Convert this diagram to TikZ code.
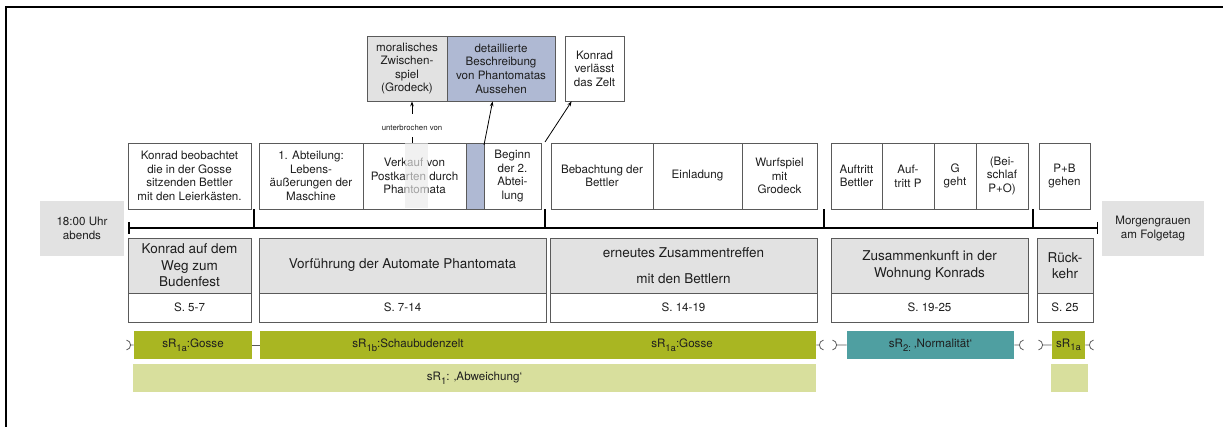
\documentclass[tikz,border=0pt]{standalone}
\usepackage{fontspec}
\setmainfont{TeX Gyre Heros}
\usetikzlibrary{arrows.meta,calc}
\definecolor{bgray}{HTML}{E2E2E2}
\definecolor{sgray}{HTML}{E9E9E9}
\definecolor{bblue}{HTML}{AFB9D3}
\definecolor{olive}{HTML}{A9B622}
\definecolor{lolive}{HTML}{D8DF9D}
\definecolor{tealbar}{HTML}{4F9FA1}
\definecolor{edge}{HTML}{5A5A5A}
\definecolor{txt}{HTML}{1E1E1E}
\newcommand\fsA{\fontsize{11.6}{13.6}\selectfont}
\newcommand\fsB{\fontsize{13.5}{16.5}\selectfont}
\newcommand\fsC{\fontsize{7.8}{9}\selectfont}
\newcommand\subx[1]{\raisebox{-3.6pt}{\fontsize{9.5}{10}\selectfont #1}}
% \mybox[options]{name}{xl}{xr}{ytop}{ybottom}{text}
\newcommand\mybox[7][]{\node[cellbox,minimum width={(#4-#3)*1pt},minimum height={(#6-#5)*1pt},#1] (#2) at ({(#3+#4)/2},{-(#5+#6)/2}) {#7};}
\begin{document}
\begin{tikzpicture}[x=1pt,y=1pt,
  cellbox/.style={draw=edge,line width=0.8pt,inner sep=0pt,align=center,text=txt,font=\fsA},
  head/.style={fill=bgray,font=\fsB},
  bar/.style={draw=none,fill=olive},
  arr/.style={line width=0.8pt,-{Stealth[length=5pt,width=3.6pt]}},
  thick line/.style={line width=1.5pt,black},
  sock/.style={line width=0.8pt,edge}]
\useasboundingbox (0,0) rectangle (1223,-427);
% frame
\coordinate (fbl) at (6,-427);
\coordinate (ftl) at (6,-7);
\coordinate (ftr) at (1223,-7);
\draw[line width=1.6pt] (fbl) -- (ftl) -- (ftr);

% upper boxes
\mybox[fill=bgray]{moral}{367}{447}{36}{101}{moralisches\\Zwischen-\\spiel\\(Grodeck)}
\mybox[fill=bblue]{detail}{447}{555}{36}{101}{detaillierte\\Beschreibung\\von Phantomatas\\Aussehen}
\mybox{verl}{565}{624}{36}{101}{Konrad\\verlässt\\das Zelt}

% row 1
\mybox{r1}{128}{251}{143}{209}{Konrad beobachtet\\die in der Gosse\\sitzenden Bettler\\mit den Leierkästen.}
\mybox{r2a}{259}{363}{143}{209}{1. Abteilung:\\Lebens-\\äußerungen der\\Maschine}
\mybox{r2b}{363}{466}{143}{209}{Verkauf von\\Postkarten durch\\Phantomata}
\mybox[fill=bblue]{r2s}{466}{484}{143}{209}{}
\mybox{r2c}{484}{541}{143}{209}{Beginn\\der 2.\\Abtei-\\lung}
\fill[sgray,fill opacity=0.65] (405,-143.5) rectangle (428,-208.5);
\mybox{r3a}{551}{653}{143}{209}{Bebachtung der\\Bettler}
\mybox{r3b}{653}{742}{143}{209}{Einladung}
\mybox{r3c}{742}{817}{143}{209}{Wurfspiel\\mit\\Grodeck}
\mybox{r4a}{831}{882}{143}{209}{Auftritt\\Bettler}
\mybox{r4b}{882}{934}{143}{209}{Auf-\\tritt P}
\mybox{r4c}{934}{976}{143}{209}{G\\geht}
\mybox{r4d}{976}{1028}{143}{209}{(Bei-\\schlaf\\P+O)}
\mybox{r5}{1039}{1090}{143}{209}{P+B\\gehen}

% unterbrochen von
\node[font=\fsC,text=txt,inner sep=2pt] (unt) at (412,-128) {unterbrochen von};
\draw[line width=0.8pt,shorten <=4pt] (unt.south) -- (unt.south |- r2b.north);
\draw[arr,shorten <=9pt] (unt.north) -- (unt.north |- moral.south);
% diagonal arrows
\coordinate (a1) at (484,-145);
\coordinate (a2) at (545,-142);
\draw[arr] (a1) -- ($(detail.south west)+(46,0)$);
\draw[arr] (a2) -- ($(verl.south west)+(7,0)$);

% side boxes
\mybox[fill=bgray,draw=none]{t0}{40}{124}{201}{256}{18:00 Uhr\\abends}
\mybox[fill=bgray,draw=none]{t1}{1102}{1204}{201}{256}{Morgengrauen\\am Folgetag}

% timeline
\coordinate (tl0) at (128,-228);
\coordinate (tl1) at (1098,-228);
\draw[thick line,{Bar[width=12pt]}-{Bar[width=12pt]}] (tl0) -- (tl1);
\coordinate (tk1) at (254,-228);
\coordinate (tk2) at (545,-228);
\coordinate (tk3) at (824,-228);
\coordinate (tk4) at (1033,-228);
\draw[thick line] (tk1) -- (tk1 |- r1.south);
\draw[thick line] (tk2) -- (tk2 |- r2c.south);
\draw[thick line] (tk3) -- (tk3 |- r3c.south);
\draw[thick line] (tk4) -- (tk4 |- r4d.south);

% row 2 headers and pages
\mybox[head]{b1}{128}{251}{238}{293}{Konrad auf dem\\Weg zum\\Budenfest}
\mybox{p1}{128}{251}{293}{322}{S. 5-7}
\mybox[head]{b2}{259}{546}{238}{293}{Vorführung der Automate Phantomata}
\mybox{p2}{259}{546}{293}{322}{S. 7-14}
\mybox[head]{b3}{550}{817}{238}{293}{erneutes Zusammentreffen\\[9pt]mit den Bettlern}
\mybox{p3}{550}{817}{293}{322}{S. 14-19}
\mybox[head]{b4}{831}{1028}{238}{293}{Zusammenkunft in der\\Wohnung Konrads}
\mybox{p4}{831}{1028}{293}{322}{S. 19-25}
\mybox[head]{b5}{1037}{1093}{238}{293}{Rück-\\kehr}
\mybox{p5}{1037}{1093}{293}{322}{S. 25}

% bars
\mybox[bar]{g1}{134}{252}{331}{359}{sR\subx{1a}:Gosse}
\mybox[bar]{g2}{260}{816}{331}{359}{}
\node[font=\fsA,text=txt] (g2t1) at (408,-345) {sR\subx{1b}:Schaubudenzelt};
\node[font=\fsA,text=txt] (g2t2) at (682,-345) {sR\subx{1a}:Gosse};
\mybox[bar,fill=tealbar]{tb}{847}{1014}{331}{359}{sR\subx{2:} ‚Normalität‘}
\mybox[bar]{g3}{1052}{1085}{331}{359}{sR\subx{1a}}
\mybox[bar,fill=lolive]{l1}{133}{816}{364}{392}{sR\subx{1}: ‚Abweichung‘}
\mybox[bar,fill=lolive]{l2}{1051}{1088}{364}{392}{}

% ball and socket connectors
\draw[sock] (g1.east) -- (g2.west);
\draw[sock] (g1.west) -- ++(-3,0) coordinate (s0) arc[start angle=0,end angle=80,radius=5];
\draw[sock] (s0) arc[start angle=0,end angle=-80,radius=5];
\draw[sock] (g2.east) -- ++(3,0) coordinate (s1) arc[start angle=180,end angle=100,radius=5];
\draw[sock] (s1) arc[start angle=180,end angle=260,radius=5];
\draw[sock] (tb.west) -- ++(-10,0) coordinate (s2) arc[start angle=0,end angle=80,radius=5];
\draw[sock] (s2) arc[start angle=0,end angle=-80,radius=5];
\draw[sock] (tb.east) -- ++(5,0) coordinate (s3) arc[start angle=180,end angle=100,radius=5];
\draw[sock] (s3) arc[start angle=180,end angle=260,radius=5];
\draw[sock] (g3.west) -- ++(-9,0) coordinate (s4) arc[start angle=0,end angle=80,radius=5];
\draw[sock] (s4) arc[start angle=0,end angle=-80,radius=5];
\draw[sock] (g3.east) -- ++(4,0) coordinate (s5) arc[start angle=180,end angle=100,radius=5];
\draw[sock] (s5) arc[start angle=180,end angle=260,radius=5];
\end{tikzpicture}
\end{document}
